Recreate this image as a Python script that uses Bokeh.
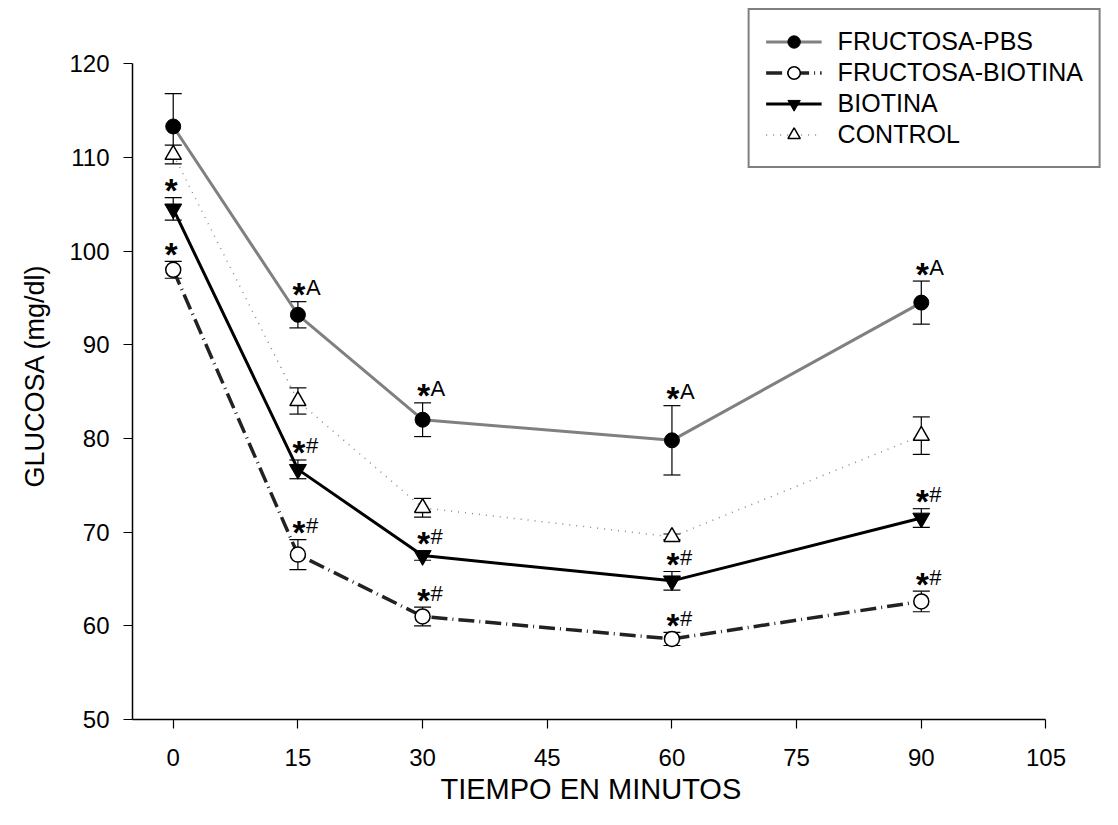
from bokeh.plotting import figure
from bokeh.models import (ColumnDataSource, Whisker, TeeHead, Legend, LegendItem,
                          FixedTicker, Range1d, Title)
from bokeh.core.properties import value
from bokeh.embed import file_html
from bokeh.resources import INLINE

# ---------------- data ----------------
minutes = [0, 15, 30, 60, 90]
series_names = ["FRUCTOSA-PBS", "FRUCTOSA-BIOTINA", "BIOTINA", "CONTROL"]

pbs_mean = [113.3, 93.2, 82.0, 79.8, 94.5]
pbs_err = [3.5, 1.4, 1.8, 3.7, 2.3]
pbs_sig = [None, "*A", "*A", "*A", "*A"]

fb_mean = [98.0, 67.6, 61.0, 58.6, 62.6]
fb_err = [0.9, 1.6, 1.0, 0.7, 1.1]
fb_sig = ["*", "*#", "*#", "*#", "*#"]

bio_mean = [104.5, 76.7, 67.5, 64.8, 71.5]
bio_err = [1.2, 1.0, 0.5, 1.0, 1.0]
bio_sig = ["*", "*#", "*#", "*#", "*#"]

ctl_mean = [110.3, 84.0, 72.6, 69.5, 80.3]
ctl_err = [1.0, 1.4, 1.0, 0.3, 2.0]

x_ticks = [0, 15, 30, 45, 60, 75, 90, 105]
y_ticks = [50, 60, 70, 80, 90, 100, 110, 120]
x_label = "TIEMPO EN MINUTOS"
y_label = "GLUCOSA (mg/dl)"

FONT = "Liberation Sans"

# ---------------- figure ----------------
p = figure(width=1102, height=809, output_backend="svg", toolbar_location=None,
           x_range=Range1d(-4.9, 111.8), y_range=Range1d(50, 126.0),
           min_border_left=132, min_border_right=0, min_border_top=7,
           min_border_bottom=90)
p.grid.visible = False
p.outline_line_color = None
p.background_fill_color = "white"

for ax in (p.xaxis[0], p.yaxis[0]):
    ax.axis_line_color = "black"
    ax.axis_line_width = 1.5
    ax.major_tick_line_color = "black"
    ax.major_tick_line_width = 1.2
    ax.major_tick_in = 0
    ax.major_tick_out = 9
    ax.minor_tick_line_color = None
    ax.major_label_text_font = FONT
    ax.major_label_text_font_size = "24px"
    ax.major_label_text_color = "black"

p.xaxis.ticker = FixedTicker(ticks=x_ticks)
p.yaxis.ticker = FixedTicker(ticks=y_ticks)
p.xaxis.bounds = (-4.9, 105)
p.yaxis.bounds = (50, 120)
p.xaxis.major_label_standoff = 20
p.yaxis.major_label_standoff = 14

# axis titles, placed along the drawn axis extent like the original
p.add_layout(Title(text=x_label, align="left", offset=308, standoff=4,
                   vertical_align="bottom",
                   text_font=FONT, text_font_size="29px", text_font_style="normal",
                   text_color="black"), "below")
p.add_layout(Title(text=y_label, align="left", offset=232, standoff=34,
                   text_font=FONT, text_font_size="27px", text_font_style="normal",
                   text_color="black"), "left")

series = [
    (pbs_mean, pbs_err, dict(line_color="#808080", line_width=3),
     dict(marker="circle", size=15, fill_color="black", line_color="black")),
    (fb_mean, fb_err, dict(line_color="#222222", line_width=3.5, line_dash="16 5 1 5"),
     dict(marker="circle", size=15, fill_color="white", line_color="black", line_width=1.5)),
    (bio_mean, bio_err, dict(line_color="black", line_width=3),
     dict(marker="inverted_triangle", size=17, fill_color="black", line_color="black")),
    (ctl_mean, ctl_err, dict(line_color="#8a8a8a", line_width=1.5, line_dash="1 6"),
     dict(marker="triangle", size=16, fill_color="white", line_color="black", line_width=1.5)),
]

line_rs, marker_rs, srcs = {}, {}, {}
for name, (mean, err, ls, ms) in zip(series_names, series):
    srcs[name] = ColumnDataSource(dict(x=minutes, y=mean,
                                       lower=[m - e for m, e in zip(mean, err)],
                                       upper=[m + e for m, e in zip(mean, err)]))

draw_order = ["CONTROL", "FRUCTOSA-BIOTINA", "BIOTINA", "FRUCTOSA-PBS"]
for name in draw_order:
    i = series_names.index(name)
    line_rs[name] = p.line("x", "y", source=srcs[name], **series[i][2])

for name in series_names:
    p.add_layout(Whisker(source=srcs[name], base="x", upper="upper", lower="lower",
                         line_color="black", line_width=1.2,
                         upper_head=TeeHead(size=17, line_width=1.2, line_color="black"),
                         lower_head=TeeHead(size=17, line_width=1.2, line_color="black")))

for name in draw_order:
    i = series_names.index(name)
    marker_rs[name] = p.scatter("x", "y", source=srcs[name], **series[i][3])

# significance annotations
star_x, star_y, star_dx = [], [], []
suf_x, suf_y, suf_t = [], [], []
for mean, err, sig in [(pbs_mean, pbs_err, pbs_sig), (fb_mean, fb_err, fb_sig),
                       (bio_mean, bio_err, bio_sig)]:
    for xv, m, e, s in zip(minutes, mean, err, sig):
        if not s:
            continue
        star_x.append(xv)
        star_y.append(m + e)
        if len(s) > 1:
            star_dx.append(1)
            suf_x.append(xv)
            suf_y.append(m + e)
            suf_t.append(s[1:])
        else:
            star_dx.append(-2)

star_src = ColumnDataSource(dict(x=star_x, y=star_y, dx=star_dx, t=["*"] * len(star_x)))
suf_src = ColumnDataSource(dict(x=suf_x, y=suf_y, t=suf_t))
p.text("x", "y", text="t", source=star_src, text_font=value(FONT),
       text_font_size="33px", text_font_style="bold", text_align="center",
       text_baseline="alphabetic", x_offset="dx", y_offset=-7, text_color="black")
p.text("x", "y", text="t", source=suf_src, text_font=value(FONT),
       text_font_size="22px", text_align="left", text_baseline="alphabetic",
       x_offset=8, y_offset=-14, text_color="black")

legend = Legend(items=[LegendItem(label=n, renderers=[line_rs[n], marker_rs[n]])
                       for n in series_names],
                location="top_right", margin=1, padding=16, spacing=0,
                glyph_width=56, glyph_height=31, label_height=31, label_standoff=16,
                label_text_font=FONT, label_text_font_size="25px",
                label_text_color="black",
                border_line_color="black", border_line_width=2,
                background_fill_color="white", background_fill_alpha=1)
p.add_layout(legend)

open("out.html", "w").write(file_html(p, INLINE))
